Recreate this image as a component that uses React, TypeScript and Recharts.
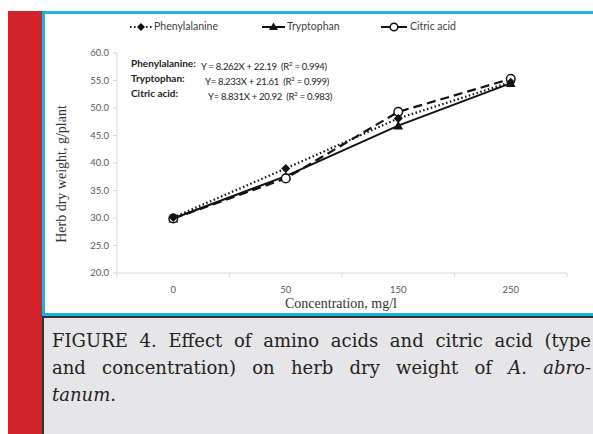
import { LineChart, Line, XAxis, YAxis } from 'recharts'

// concentration categories (mg/l)
const CONCENTRATIONS = ['0', '50', '150', '250']
const PHENYLALANINE = [30.1, 39.0, 48.1, 54.7]
const TRYPTOPHAN = [29.9, 37.6, 46.8, 54.5]
const CITRIC_ACID = [29.9, 37.2, 49.3, 55.3]
const Y_TICKS = [20, 25, 30, 35, 40, 45, 50, 55, 60]
const X_TICKS = [-0.5, 0, 0.5, 1, 1.5, 2, 2.5, 3, 3.5]

const EQUATIONS = [
  { name: 'Phenylalanine:', eq: 'Y = 8.262X + 22.19', r2: '0.994', left: 70 },
  { name: 'Tryptophan:', eq: 'Y= 8.233X + 21.61', r2: '0.999', left: 74 },
  { name: 'Citric acid:', eq: 'Y= 8.831X + 20.92', r2: '0.983', left: 77 },
]

const data = CONCENTRATIONS.map((c, i) => ({
  x: i,
  label: c,
  phe: PHENYLALANINE[i],
  trp: TRYPTOPHAN[i],
  cit: CITRIC_ACID[i],
}))

const SANS = 'Lato, "Open Sans", sans-serif'
const SERIF = '"Liberation Serif", "DejaVu Serif", serif'
const CAPTION = '"DejaVu Serif", serif'
const AXIS = '#d9d9d9'

const Diamond = (props: any) => {
  const { cx, cy } = props
  if (cx == null || cy == null) return null
  const s = 4.5
  return <path d={`M${cx},${cy - s}L${cx + s},${cy}L${cx},${cy + s}L${cx - s},${cy}Z`} fill="#111" />
}

const Triangle = (props: any) => {
  const { cx, cy } = props
  if (cx == null || cy == null) return null
  const s = 4.8
  return <path d={`M${cx},${cy - s}L${cx + s},${cy + s * 0.8}L${cx - s},${cy + s * 0.8}Z`} fill="#111" />
}

const Circle = (props: any) => {
  const { cx, cy } = props
  if (cx == null || cy == null) return null
  return <circle cx={cx} cy={cy} r={4.3} fill="#fff" stroke="#111" strokeWidth={1.5} />
}

const XTick = (props: any) => {
  const { x, y, payload } = props
  const v = payload.value
  if (Number.isInteger(v)) {
    return (
      <text x={x} y={y + 20} textAnchor="middle" fontSize={9.5} fill="#595959" fontFamily={SANS}>
        {CONCENTRATIONS[v]}
      </text>
    )
  }
  return <line x1={x} x2={x} y1={y} y2={y + 4} stroke={AXIS} />
}

const ChartLegend = () => (
  <div style={{ position: 'absolute', left: 0, top: 20, width: 593, height: 14, fontFamily: SANS, fontSize: 10.5, color: '#404040' }}>
    <svg width={593} height={14} style={{ position: 'absolute', left: 0, top: 0 }}>
      <line x1={130} x2={152} y1={7} y2={7} stroke="#111" strokeWidth={2} strokeDasharray="1.5 2.5" />
      <path d="M141,3L145,7L141,11L137,7Z" fill="#111" />
      <line x1={262} x2={285} y1={7} y2={7} stroke="#111" strokeWidth={2} />
      <path d="M273.5,2.5L278,10L269,10Z" fill="#111" />
      <line x1={381} x2={407} y1={7} y2={7} stroke="#111" strokeWidth={2} />
      <circle cx={394} cy={7} r={3.8} fill="#fff" stroke="#111" strokeWidth={1.5} />
    </svg>
    <span style={{ position: 'absolute', left: 154, top: 0 }}>Phenylalanine</span>
    <span style={{ position: 'absolute', left: 287, top: 0 }}>Tryptophan</span>
    <span style={{ position: 'absolute', left: 410, top: 0 }}>Citric acid</span>
  </div>
)

export default function App() {
  return (
    <div style={{ position: 'absolute', left: 0, top: 0, width: 593, height: 434, background: '#fff', overflow: 'hidden' }}>
      <div style={{ position: 'absolute', left: 8, top: 11, width: 35, height: 423, background: '#d2232a' }} />
      <div
        style={{
          position: 'absolute', left: 42, top: 11, width: 560, height: 305,
          border: '3px solid #1fb1e6', boxSizing: 'border-box', background: '#fff',
        }}
      />
      <div
        style={{
          position: 'absolute', left: 42, top: 316, width: 560, height: 130,
          background: '#e6e6e8', borderTop: '2px solid #333', borderLeft: '2px solid #333', boxSizing: 'border-box',
        }}
      />

      <div style={{ position: 'absolute', left: 0, top: 0 }}>
        <LineChart width={593} height={320} data={data} margin={{ top: 53, right: 26, bottom: 17, left: 57 }}>
          <XAxis
            dataKey="x"
            type="number"
            domain={[-0.5, 3.5]}
            ticks={X_TICKS}
            interval={0}
            tick={<XTick />}
            tickLine={false}
            tickSize={0}
            tickMargin={0}
            axisLine={{ stroke: AXIS }}
            height={30}
          />
          <YAxis
            type="number"
            domain={[20, 60]}
            ticks={Y_TICKS}
            interval={0}
            tickFormatter={(v: number) => v.toFixed(1)}
            tick={{ fontSize: 9.5, fill: '#595959', fontFamily: SANS }}
            tickLine={{ stroke: AXIS }}
            tickSize={4}
            tickMargin={4}
            axisLine={{ stroke: AXIS }}
            width={60}
          />
          <Line dataKey="trp" name="Tryptophan" stroke="#111" strokeWidth={2} dot={<Triangle />} isAnimationActive={false} />
          <Line dataKey="cit" name="Citric acid" stroke="#111" strokeWidth={2.2} strokeDasharray="9 5" dot={<Circle />} isAnimationActive={false} />
          <Line dataKey="phe" name="Phenylalanine" stroke="#111" strokeWidth={2.2} strokeDasharray="1.5 2.5" dot={<Diamond />} isAnimationActive={false} />
        </LineChart>
      </div>

      <ChartLegend />

      <div style={{ position: 'absolute', left: 131, top: 56, fontFamily: SANS, fontSize: 10, color: '#222', lineHeight: '15px' }}>
        {EQUATIONS.map(e => (
          <div key={e.name} style={{ position: 'relative', height: 15 }}>
            <span style={{ fontWeight: 700 }}>{e.name}</span>
            <span style={{ position: 'absolute', left: e.left, whiteSpace: 'nowrap', fontSize: 9.5, letterSpacing: -0.3 }}>
              {e.eq}&nbsp;&nbsp;(R<sup style={{ fontSize: 6.5 }}>2</sup> = {e.r2})
            </span>
          </div>
        ))}
      </div>

      <div
        style={{
          position: 'absolute', left: 62, top: 174, transform: 'translate(-50%, -50%) rotate(-90deg)',
          fontFamily: SERIF, fontSize: 14, color: '#333', whiteSpace: 'nowrap',
        }}
      >
        Herb dry weight, g/plant
      </div>
      <div
        style={{
          position: 'absolute', left: 341, top: 296, transform: 'translateX(-50%)',
          fontFamily: SERIF, fontSize: 14, color: '#333', whiteSpace: 'nowrap',
        }}
      >
        Concentration, mg/l
      </div>

      <div style={{ position: 'absolute', left: 52, top: 327, width: 539, fontFamily: CAPTION, fontSize: 18, color: '#222', lineHeight: '27px' }}>
        <div style={{ textAlign: 'justify', textAlignLast: 'justify', whiteSpace: 'nowrap' }}>
          FIGURE 4. Effect of amino acids and citric acid (type
        </div>
        <div style={{ textAlign: 'justify', textAlignLast: 'justify', whiteSpace: 'nowrap' }}>
          and concentration) on herb dry weight of <i>A. abro-</i>
        </div>
        <div>
          <i>tanum</i>.
        </div>
      </div>
    </div>
  )
}
